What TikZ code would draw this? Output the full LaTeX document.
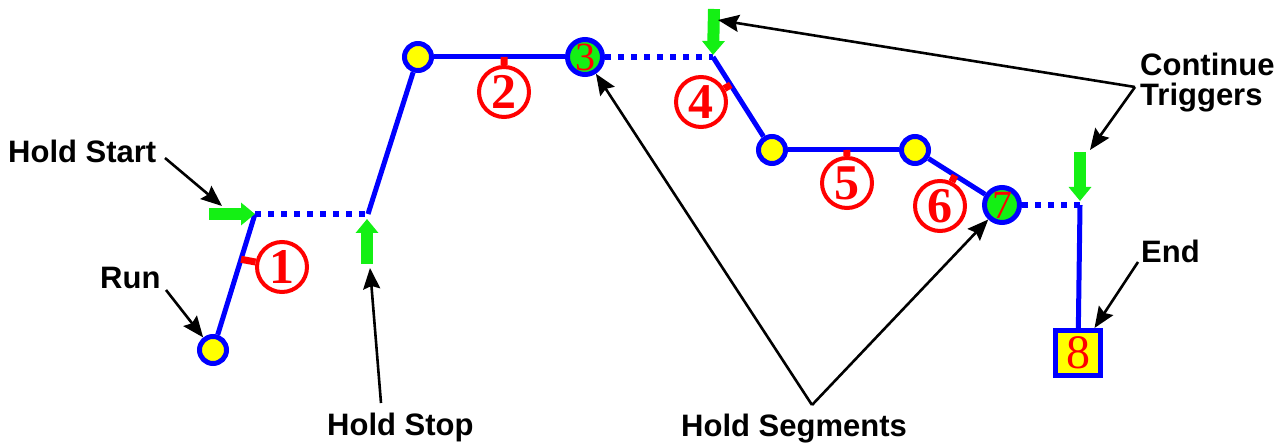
\documentclass[tikz,border=0pt]{standalone}
\usepackage{fontspec}
\setmainfont{Liberation Serif}
\newfontfamily\labelfont{Liberation Sans}
\usetikzlibrary{arrows.meta,calc}

\definecolor{segblue}{RGB}{0,0,255}
\definecolor{trggreen}{RGB}{20,240,20}
\definecolor{ptyellow}{RGB}{255,255,0}
\definecolor{numred}{RGB}{255,0,0}

\tikzset{
  point/.style={circle, draw=segblue, line width=5pt, fill=ptyellow, minimum size=27pt, inner sep=0pt},
  holdpt/.style={circle, draw=segblue, line width=5pt, fill=trggreen, minimum size=35pt, inner sep=0pt, text=numred, font=\fontsize{40}{40}\selectfont},
  endpt/.style={rectangle, draw=segblue, line width=5pt, fill=ptyellow, minimum size=45pt, inner sep=0pt, text=numred, font=\fontsize{48}{48}\selectfont},
  seg/.style={draw=segblue, line width=5pt},
  hold/.style={draw=segblue, line width=6pt, dash pattern=on 6pt off 7pt},
  segnum/.style={circle, draw=numred, line width=4pt, minimum size=50pt, inner sep=0pt, text=numred, font=\fontsize{50}{50}\selectfont\bfseries},
  stub/.style={draw=numred, line width=7pt},
  trigger/.style={draw=trggreen, line width=12pt, -{Triangle[width=22pt,length=14pt]}},
  callout/.style={draw=black, line width=2.6pt, -{Stealth[length=21pt,width=17pt,inset=3pt]}},
  lbl/.style={font=\labelfont\fontsize{31}{30}\selectfont\bfseries, align=left, inner sep=0pt}
}

\begin{document}
\begin{tikzpicture}[x=1pt, y=-1pt]
\useasboundingbox (0,0) rectangle (1287,443);

% points of the profile
\node[point] (run) at (213,350) {};
\coordinate (hstart) at (255,214);
\coordinate (hstop) at (368,214);
\node[point] (p2) at (418,57) {};
\node[holdpt] (p3) at (585,57) {3};
\coordinate (ctrig1) at (713,57);
\node[point] (p4) at (772,150) {};
\node[point] (p5) at (915,150) {};
\node[holdpt] (p7) at (1002,205) {7};
\coordinate (ctrig2) at (1080,205);
\node[endpt] (p8) at (1078,353) {8};

% segments
\draw[seg] (run) -- (hstart);
\draw[hold] (hstart) -- (hstop);
\draw[seg] (hstop) -- (p2);
\draw[seg] (p2) -- (p3);
\draw[hold] (p3) -- (ctrig1);
\draw[seg] (ctrig1) -- (p4);
\draw[seg] (p4) -- (p5);
\draw[seg] (p5) -- (p7);
\draw[hold] (p7) -- (ctrig2);
\draw[seg] (ctrig2) -- (p8);

% segment numbers
\node[segnum] (n1) at (282,267) {1};
\node[segnum] (n2) at (504,92) {2};
\node[segnum] (n4) at (701,102) {4};
\node[segnum] (n5) at (847,183) {5};
\node[segnum] (n6) at (940,206) {6};
\draw[stub] ($(run)!.667!(hstart)$) -- (n1);
\draw[stub] ($(p2)!.515!(p3)$) -- (n2);
\draw[stub] ($(ctrig1)!.3!(p4)$) -- (n4);
\draw[stub] ($(p4)!.524!(p5)$) -- (n5);
\draw[stub] ($(p5)!.46!(p7)$) -- (n6);

% hold and continue triggers
\coordinate (hstail) at (209,214);
\coordinate (hptail) at (367,264);
\coordinate (ct1tail) at (714,9);
\coordinate (ct2tail) at (1080,152);
\draw[trigger] (hstail) -- (hstart);
\draw[trigger, shorten >=5pt] (hptail) -- (hptail |- hstop);
\draw[trigger, shorten >=2pt] (ct1tail) -- (ctrig1);
\draw[trigger, shorten >=4pt] (ct2tail) -- (ctrig2);

% labels
\node[lbl, anchor=base west] (lbstart) at (8,163) {Hold Start};
\node[lbl, anchor=base west] (lbrun) at (100,289) {Run};
\node[lbl, anchor=base west] (lbstop) at (327,435) {Hold Stop};
\node[lbl, anchor=base west] (lbseg) at (681,436) {Hold Segments};
\node[lbl, anchor=base west] (lbcont) at (1140,106) {Continue\\Triggers};
\node[lbl, anchor=base west] (lbend) at (1141,263) {End};

% callouts
\coordinate (startfoot) at (165,158);
\coordinate (hsaim) at (222,206);
\coordinate (runfoot) at (166,290);
\coordinate (stopfoot) at (381,403);
\coordinate (stopaim) at (370,268);
\coordinate (segapex) at (812,405);
\coordinate (contapex) at (1135,87);
\coordinate (ct1aim) at (718,20);
\coordinate (ct2aim) at (1090,150);
\coordinate (endfoot) at (1138,262);
\draw[callout] (startfoot) -- (hsaim);
\draw[callout] (runfoot) -- (run);
\draw[callout] (stopfoot) -- (stopaim);
\draw[callout] (segapex) -- (p3);
\draw[callout] (segapex) -- (p7);
\draw[callout] (contapex) -- (ct1aim);
\draw[callout] (contapex) -- (ct2aim);
\draw[callout] (endfoot) -- (p8);
\end{tikzpicture}
\end{document}
